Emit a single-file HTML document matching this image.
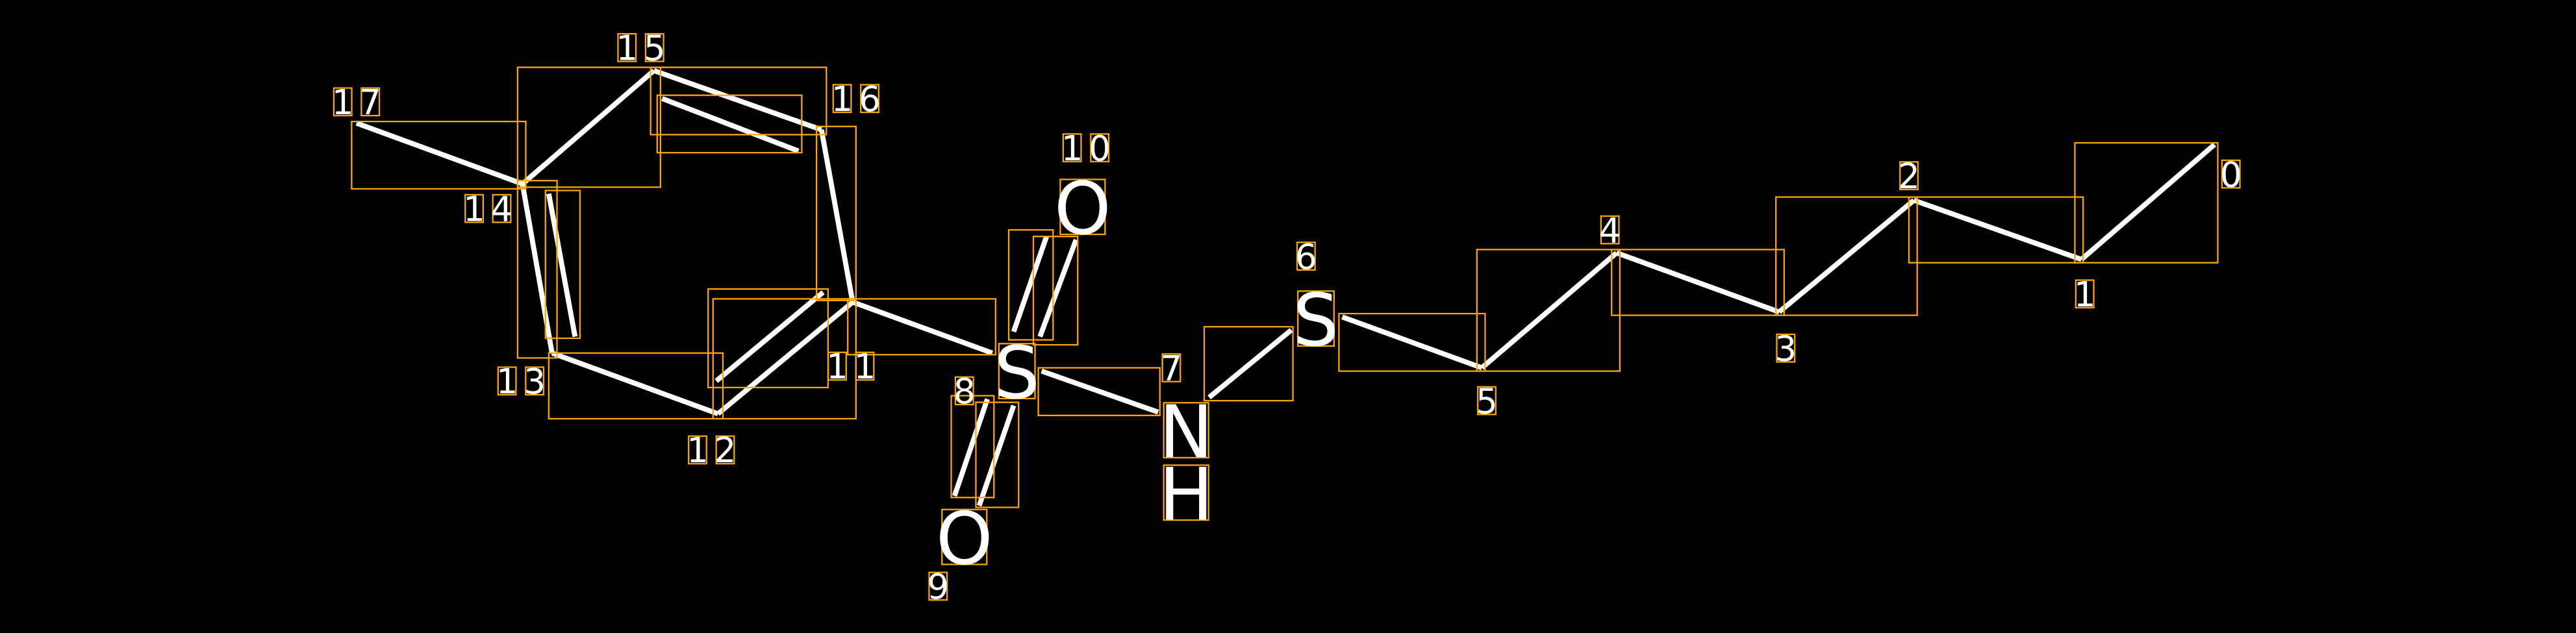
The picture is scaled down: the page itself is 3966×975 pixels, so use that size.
<!DOCTYPE html>
<html><head><meta charset="utf-8"><style>html,body{margin:0;padding:0;background:#000;width:3966px;height:975px;overflow:hidden}</style></head>
<body>
<svg id="s" xmlns="http://www.w3.org/2000/svg" width="3966" height="975" viewBox="0 0 1568 385.5" style="display:block;background:#000">
<g stroke="#fff" stroke-width="3.1" stroke-linecap="butt">
<line x1="217" y1="75" x2="318" y2="112"/>
<line x1="318" y1="112" x2="398" y2="43"/>
<line x1="398" y1="43" x2="500" y2="79"/>
<line x1="403" y1="60" x2="486" y2="92"/>
<line x1="500" y1="79" x2="519" y2="184"/>
<line x1="519" y1="184" x2="437" y2="252"/>
<line x1="436" y1="232" x2="501" y2="178"/>
<line x1="437" y1="252" x2="336" y2="215"/>
<line x1="336" y1="215" x2="318" y2="112"/>
<line x1="334" y1="118" x2="350" y2="205"/>
<line x1="519" y1="184" x2="604" y2="215"/>
<line x1="617" y1="202" x2="637" y2="144"/>
<line x1="633" y1="205" x2="655" y2="146"/>
<line x1="581" y1="302" x2="601" y2="243"/>
<line x1="596" y1="308" x2="617" y2="247"/>
<line x1="634" y1="226" x2="705" y2="251"/>
<line x1="736" y1="242" x2="786" y2="201"/>
<line x1="817" y1="193" x2="902" y2="224"/>
<line x1="902" y1="224" x2="984" y2="154"/>
<line x1="984" y1="154" x2="1083" y2="190"/>
<line x1="1083" y1="190" x2="1165" y2="122"/>
<line x1="1165" y1="122" x2="1267" y2="158"/>
<line x1="1267" y1="158" x2="1348" y2="88"/>
</g>
<g fill="none" stroke="#ffa500" stroke-width="0.9">
<rect x="214" y="74" width="106" height="41"/>
<rect x="315" y="41" width="87" height="73"/>
<rect x="396" y="41" width="107" height="41"/>
<rect x="400" y="58" width="88" height="35"/>
<rect x="497" y="77" width="24" height="106"/>
<rect x="434" y="182" width="87" height="73"/>
<rect x="431" y="176" width="73" height="60"/>
<rect x="334" y="215" width="106" height="40"/>
<rect x="315" y="110" width="24" height="108"/>
<rect x="332" y="116" width="21" height="90"/>
<rect x="516" y="182" width="90" height="34"/>
<rect x="614" y="140" width="27" height="67"/>
<rect x="629" y="144" width="27" height="66"/>
<rect x="579" y="241" width="26" height="62"/>
<rect x="594" y="245" width="26" height="64"/>
<rect x="632" y="224" width="74" height="29"/>
<rect x="733" y="199" width="54" height="45"/>
<rect x="815" y="191" width="89" height="35"/>
<rect x="899" y="152" width="87" height="74"/>
<rect x="981" y="152" width="105" height="40"/>
<rect x="1081" y="120" width="86" height="72"/>
<rect x="1162" y="120" width="106" height="40"/>
<rect x="1263" y="87" width="87" height="73"/>
</g>
<g id="lab"></g>
</svg>
<script>
var L=[["17",217,62,21],["15",390,29,21],["16",521,60,21],["14",297,127,21],["13",317,232,21],["12",433,274,21],["11",518,223,21],["10",661,90,21],["8",587,238,21],["9",571,357,21],["7",713,224,21],["6",795,156,21],["5",905,244,21],["4",980,140,21],["3",1087,212,21],["2",1162,107,21],["1",1269,179,21],["0",1358,106,21],
["O",659,126,44],["S",619,226,44],["O",587,327,44],["N",722,262,44],["H",722,300,44],["S",801,194,44]];
var g=document.getElementById("lab"),NS="http://www.w3.org/2000/svg";
L.forEach(function(l){var t=l[0],cx=l[1],cy=l[2],fs=l[3];var big=fs>30;
var adv=big?fs*0.7:fs*0.8;var n=t.length;
for(var i=0;i<n;i++){var x=cx+(i-(n-1)/2)*adv;
var w=big?(t[i]=="S"?fs*0.5:fs*0.62):fs*0.52,h=big?fs*0.76:fs*0.8;
var r=document.createElementNS(NS,"rect");r.setAttribute("x",x-w/2);r.setAttribute("y",cy-h/2);r.setAttribute("width",w);r.setAttribute("height",h);
r.setAttribute("fill","none");r.setAttribute("stroke","#ffa500");r.setAttribute("stroke-width","0.9");g.appendChild(r);
var e=document.createElementNS(NS,"text");e.setAttribute("x",x);e.setAttribute("y",cy+h/2-(big?0.3:0.8));e.setAttribute("text-anchor","middle");
e.setAttribute("font-family","DejaVu Sans, Liberation Sans, sans-serif");e.setAttribute("font-size",fs);e.setAttribute("fill","#fff");e.textContent=t[i];g.appendChild(e);}
});
</script>
</body></html>
